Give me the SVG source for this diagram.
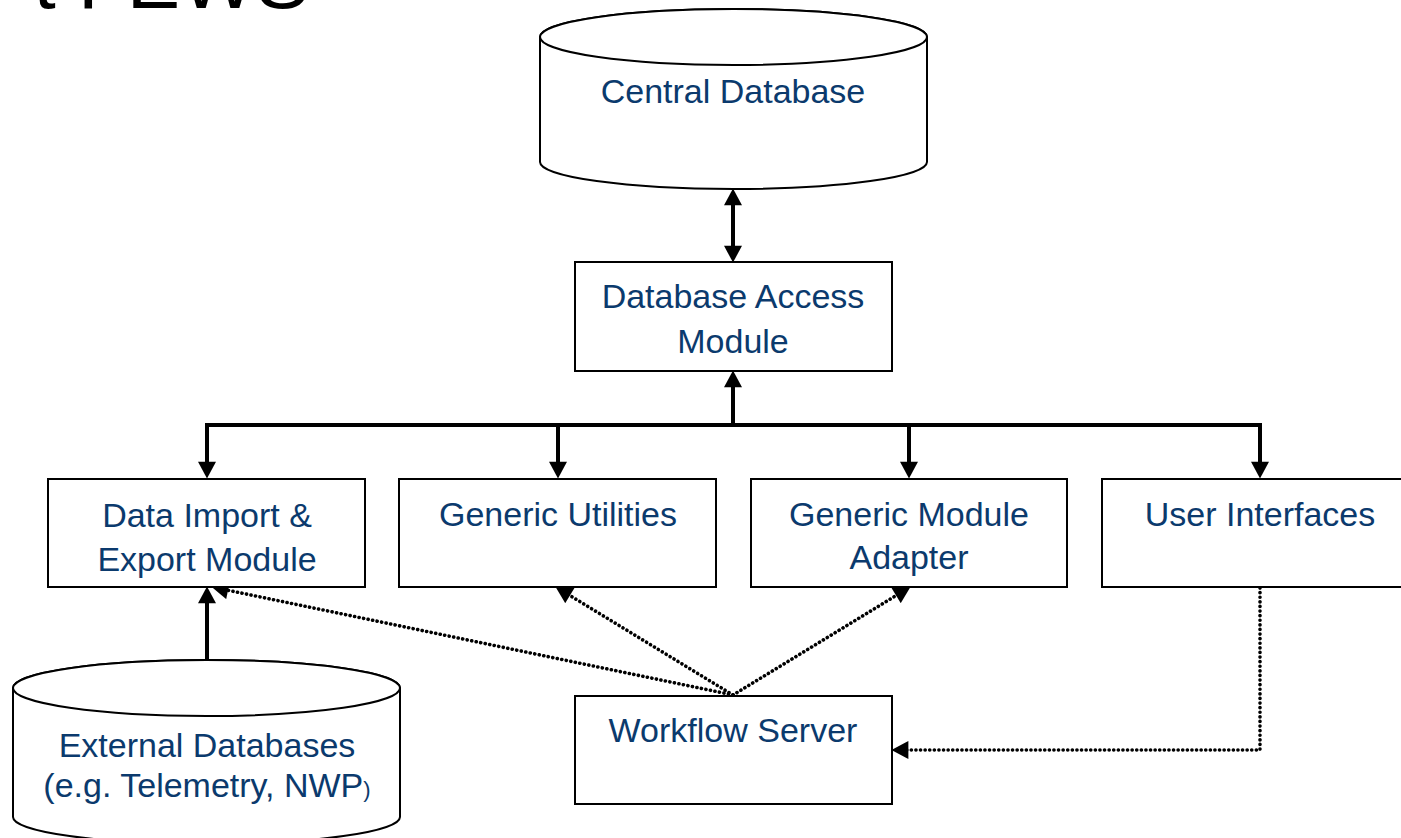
<svg xmlns="http://www.w3.org/2000/svg" width="1401" height="838" viewBox="0 0 1401 838">
  <style>
    .box { fill: #ffffff; stroke: #000000; stroke-width: 2; }
    .lbl { font-family: "Liberation Sans", Arial, sans-serif; font-size: 34px; fill: #0b3a6d; text-anchor: middle; }
    .title { font-family: "Liberation Sans", Arial, sans-serif; font-size: 80px; fill: #000000; text-anchor: end; }
    .solid { fill: none; stroke: #000000; stroke-width: 4; stroke-linejoin: miter; }
    .dot { fill: none; stroke: #000000; stroke-width: 3.6; stroke-linecap: round; stroke-dasharray: 0.1 4.5; }
  </style>
  <defs>
    <marker id="head" markerUnits="userSpaceOnUse" markerWidth="18" markerHeight="18" viewBox="0 0 16 17" refX="6" refY="8.5" orient="auto-start-reverse">
      <path d="M0,0 L16,8.5 L0,17 Z" fill="#000000"/>
    </marker>
  </defs>

  <rect width="1401" height="838" fill="#ffffff"/>

  <!-- page title, mostly above the visible area -->
  <text class="title" x="309" y="8">t FEWS</text>

  <!-- connectors (drawn first so the node boxes cover arrow tips) -->
  <g id="connectors">
    <path class="solid" d="M733,199 V252" marker-start="url(#head)" marker-end="url(#head)"/>
    <path class="solid" d="M733,425 V381" marker-end="url(#head)"/>
    <path class="solid" d="M207,468 V425 H1260 V468" marker-start="url(#head)" marker-end="url(#head)"/>
    <path class="solid" d="M558,425 V468" marker-end="url(#head)"/>
    <path class="solid" d="M909,425 V468" marker-end="url(#head)"/>
    <path class="solid" d="M207,662 V597" marker-end="url(#head)"/>
    <path class="dot" d="M733,695 L221.8,589" marker-end="url(#head)"/>
    <path class="dot" d="M733,695 L564.5,592.2" marker-end="url(#head)"/>
    <path class="dot" d="M733,695 L901.5,592.2" marker-end="url(#head)"/>
    <path class="dot" d="M1260,588 V750 H902" marker-end="url(#head)"/>
  </g>

  <g id="central-database">
    <path class="box" d="M540,37 L540,162 A193.5,27 0 0 0 927,162 L927,37 A193.5,28 0 0 0 540,37 Z"/>
    <ellipse class="box" cx="733.5" cy="37" rx="193.5" ry="28"/>
    <text class="lbl" x="733" y="103">Central Database</text>
  </g>

  <g id="database-access-module">
    <rect class="box" x="575" y="262" width="317" height="109"/>
    <text class="lbl" x="733" y="308">Database Access</text>
    <text class="lbl" x="733" y="353">Module</text>
  </g>

  <g id="data-import-export">
    <rect class="box" x="48" y="479" width="317" height="108"/>
    <text class="lbl" x="207" y="527">Data Import &amp;</text>
    <text class="lbl" x="207" y="571">Export Module</text>
  </g>

  <g id="generic-utilities">
    <rect class="box" x="399" y="479" width="317" height="108"/>
    <text class="lbl" x="558" y="526">Generic Utilities</text>
  </g>

  <g id="generic-module-adapter">
    <rect class="box" x="751" y="479" width="316" height="108"/>
    <text class="lbl" x="909" y="526">Generic Module</text>
    <text class="lbl" x="909" y="569">Adapter</text>
  </g>

  <g id="user-interfaces">
    <rect class="box" x="1102" y="479" width="317" height="108"/>
    <text class="lbl" x="1260" y="526">User Interfaces</text>
  </g>

  <g id="workflow-server">
    <rect class="box" x="575" y="696" width="317" height="108"/>
    <text class="lbl" x="733" y="742">Workflow Server</text>
  </g>

  <g id="external-databases">
    <path class="box" d="M13,688 L13,817 A193.5,27 0 0 0 400,817 L400,688 A193.5,28 0 0 0 13,688 Z"/>
    <ellipse class="box" cx="206.5" cy="688" rx="193.5" ry="28"/>
    <text class="lbl" x="207" y="757">External Databases</text>
    <text class="lbl" x="207" y="797">(e.g. Telemetry, NWP<tspan font-size="22">)</tspan></text>
  </g>
</svg>
